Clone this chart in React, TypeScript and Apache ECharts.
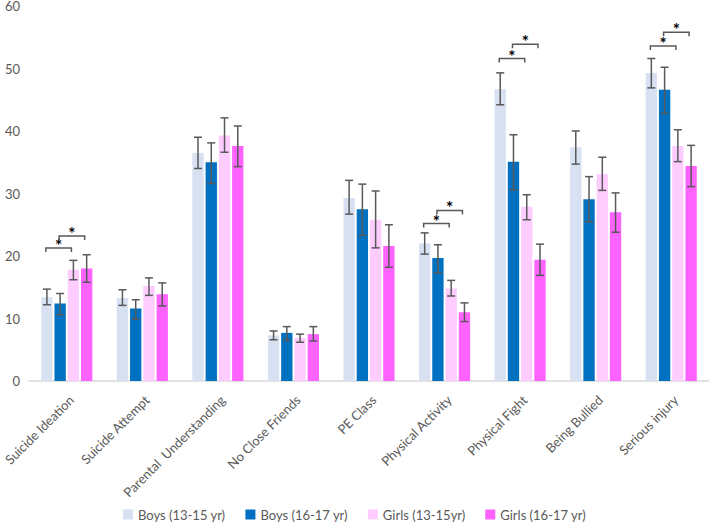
import React, { useEffect, useRef } from "react";
import * as echarts from "echarts";

const categories = [
  "Suicide Ideation",
  "Suicide Attempt",
  "Parental  Understanding",
  "No Close Friends",
  "PE Class",
  "Physical Activity",
  "Physical Fight",
  "Being Bullied",
  "Serious injury",
];

const seriesNames = ["Boys (13-15 yr)", "Boys (16-17 yr)", "Girls (13-15yr)", "Girls (16-17 yr)"];
const seriesColors = ["#d7e1f1", "#0070c0", "#ffccff", "#ff63ff"];

const boys1315 = [13.4, 13.3, 36.5, 7.3, 29.3, 22.0, 46.7, 37.4, 49.3];
const boys1315Low = [12.2, 12.1, 34.0, 6.6, 26.7, 20.3, 44.2, 34.7, 46.9];
const boys1315High = [14.7, 14.6, 39.0, 8.0, 32.1, 23.7, 49.3, 40.0, 51.6];

const boys1617 = [12.4, 11.6, 35.0, 7.7, 27.5, 19.7, 35.1, 29.1, 46.6];
const boys1617Low = [10.6, 9.9, 31.6, 6.5, 23.3, 17.3, 30.6, 25.5, 42.8];
const boys1617High = [14.0, 13.0, 38.1, 8.7, 31.5, 21.8, 39.4, 32.7, 50.2];

const girls1315 = [17.8, 15.2, 39.3, 6.9, 25.8, 14.8, 27.9, 33.1, 37.6];
const girls1315Low = [16.2, 13.7, 36.6, 6.2, 21.3, 13.6, 25.8, 30.5, 35.1];
const girls1315High = [19.3, 16.5, 42.1, 7.5, 30.4, 16.1, 29.8, 35.8, 40.2];

const girls1617 = [18.0, 13.9, 37.6, 7.5, 21.6, 11.0, 19.4, 27.0, 34.4];
const girls1617Low = [15.8, 12.0, 34.3, 6.4, 18.2, 9.5, 16.9, 23.8, 31.1];
const girls1617High = [20.2, 15.7, 40.8, 8.7, 25.0, 12.5, 21.9, 30.1, 37.7];

// [category index, from bar, to bar, bracket level]
const brackets = [
  [0, 0, 2, 21.3],
  [0, 1, 3, 23.2],
  [5, 0, 2, 25.2],
  [5, 1, 3, 27.3],
  [6, 0, 2, 51.6],
  [6, 1, 3, 53.9],
  [8, 0, 2, 53.6],
  [8, 1, 3, 55.8],
];

const yTicks = { min: 0, max: 60, interval: 10 };

const values = [boys1315, boys1617, girls1315, girls1617];
const lows = [boys1315Low, boys1617Low, girls1315Low, girls1617Low];
const highs = [boys1315High, boys1617High, girls1315High, girls1617High];

const BAR_W = 0.15;
const BAR_GAP = 0.17;

function barOffset(catWidth: number, i: number) {
  const bw = catWidth * BAR_W;
  const groupW = 4 * bw + 3 * bw * BAR_GAP;
  return -groupW / 2 + bw / 2 + i * bw * (1 + BAR_GAP);
}

const FONT = "Lato, 'Open Sans', sans-serif";
const GRAY = "#595959";

export default function App() {
  const ref = useRef<HTMLDivElement>(null);
  useEffect(() => {
    if (!ref.current) return;
    const chart = echarts.init(ref.current, null, { renderer: "svg" });

    const errData: number[][] = [];
    for (let s = 0; s < 4; s++) {
      for (let c = 0; c < categories.length; c++) {
        errData.push([c, s, lows[s][c], highs[s][c]]);
      }
    }

    const barSeries = seriesNames.map((name, s) => ({
      name,
      type: "bar",
      data: values[s],
      barWidth: BAR_W * 100 + "%",
      barGap: BAR_GAP * 100 + "%",
      itemStyle: { color: seriesColors[s] },
      emphasis: { disabled: true },
    }));

    chart.setOption({
      animation: false,
      grid: {
        left: 29,
        right: 0,
        top: 6,
        bottom: 143,
        containLabel: false,
        outerBoundsMode: "none",
      },
      legend: {
        data: seriesNames,
        left: "center",
        top: 503,
        icon: "rect",
        itemWidth: 10,
        itemHeight: 10,
        itemGap: 20,
        textStyle: { fontFamily: FONT, fontSize: 13, color: GRAY },
      },
      xAxis: {
        type: "category",
        data: categories,
        axisLine: { show: true, lineStyle: { color: "#d9d9d9", width: 1.5 } },
        axisTick: { show: false },
        axisLabel: {
          rotate: 45,
          interval: 0,
          margin: 12,
          align: "right",
          verticalAlign: "top",
          fontFamily: FONT,
          fontSize: 13,
          color: GRAY,
        },
      },
      yAxis: {
        type: "value",
        min: yTicks.min,
        max: yTicks.max,
        interval: yTicks.interval,
        axisLine: { show: false },
        axisTick: { show: false },
        splitLine: { show: false },
        axisLabel: { margin: 9, fontFamily: FONT, fontSize: 13, lineHeight: 12, color: GRAY },
      },
      series: [
        ...barSeries,
        {
          type: "custom",
          name: "err",
          data: errData,
          encode: { x: 0, y: 3 },
          z: 10,
          silent: true,
          renderItem: (params: any, api: any) => {
            const c = api.value(0);
            const s = api.value(1);
            const lo = api.coord([c, api.value(2)]);
            const hi = api.coord([c, api.value(3)]);
            const cw = api.size([1, 0])[0];
            const x = lo[0] + barOffset(cw, s);
            const cap = 4;
            const style = { stroke: GRAY, lineWidth: 1.5, fill: "none" };
            return {
              type: "group",
              children: [
                { type: "line", shape: { x1: x, y1: lo[1], x2: x, y2: hi[1] }, style },
                { type: "line", shape: { x1: x - cap, y1: lo[1], x2: x + cap, y2: lo[1] }, style },
                { type: "line", shape: { x1: x - cap, y1: hi[1], x2: x + cap, y2: hi[1] }, style },
              ],
            };
          },
        },
        {
          type: "custom",
          name: "sig",
          data: brackets,
          encode: { x: 0, y: 3 },
          z: 11,
          silent: true,
          renderItem: (params: any, api: any) => {
            const c = api.value(0);
            const p = api.coord([c, api.value(3)]);
            const cw = api.size([1, 0])[0];
            const x1 = p[0] + barOffset(cw, api.value(1)) - 1;
            const x2 = p[0] + barOffset(cw, api.value(2)) - 2;
            const y = p[1];
            const leg = 4;
            return {
              type: "group",
              children: [
                {
                  type: "polyline",
                  shape: { points: [[x1, y + leg], [x1, y], [x2, y], [x2, y + leg]] },
                  style: { stroke: GRAY, lineWidth: 1.5, fill: "none" },
                },
                {
                  type: "text",
                  x: (x1 + x2) / 2,
                  y: y + 6,
                  style: {
                    text: "*",
                    textAlign: "center",
                    textVerticalAlign: "bottom",
                    fontSize: 17,
                    fontWeight: "bold",
                    fontFamily: FONT,
                    fill: "#000",
                  },
                },
              ],
            };
          },
        },
      ],
    });
    return () => chart.dispose();
  }, []);
  return (
    <div
      ref={ref}
      style={{ position: "fixed", left: 0, top: 0, width: 709, height: 524, background: "#fff" }}
    />
  );
}
